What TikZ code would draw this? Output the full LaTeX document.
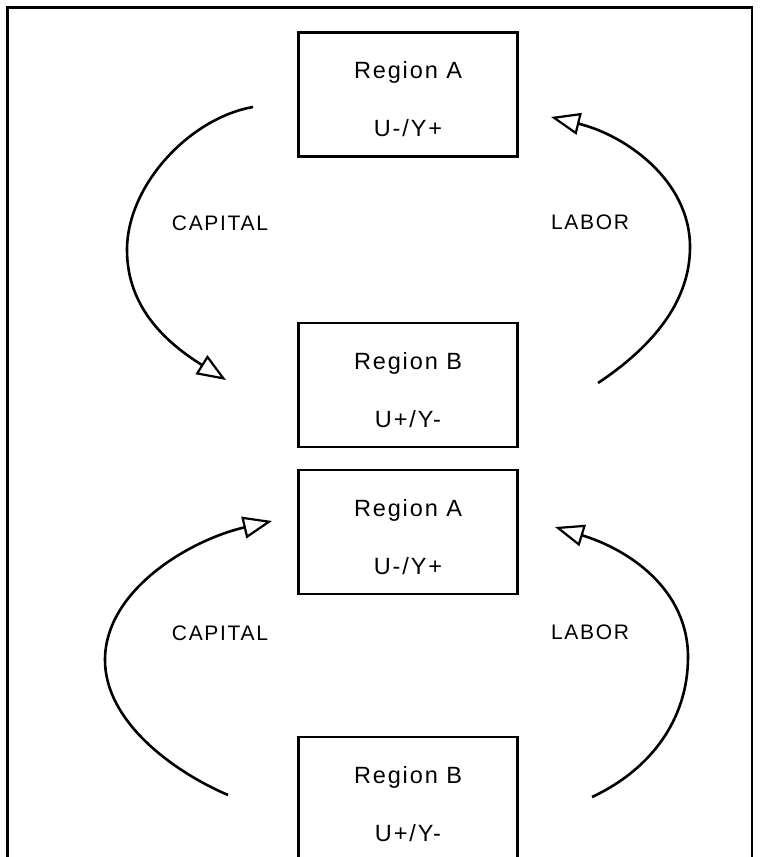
\documentclass[tikz,border=0pt]{standalone}
\usepackage{fontspec}
\setmainfont{Liberation Sans}
\usetikzlibrary{arrows.meta,positioning}

\tikzset{
  region/.style={draw, line width=2.2pt, minimum width=219pt, minimum height=124pt,
    align=center, inner sep=0pt,
    font=\fontsize{23.5}{58}\selectfont\addfontfeatures{LetterSpace=8}},
  flow/.style={line width=2.6pt, -{Triangle[open, length=29pt, width=22pt, line width=2.2pt]}},
  flowlabel/.style={font=\fontsize{21}{24}\selectfont\addfontfeatures{LetterSpace=8}}
}
\newcommand{\toprow}{\rule{0pt}{27pt}}

\begin{document}
\begin{tikzpicture}[x=1pt, y=-1pt]
	\useasboundingbox (0,0) rectangle (768,857);
	\clip (0,0) rectangle (768,857);
	% Draw the frame
	\draw[line width=2.6pt] (7.5,857) -- (7.5,7.5) -- (752,7.5) -- (752,857);
	% Draw the regions
	\node[region]                     (ra1) at (408,94.5) {\toprow Region A\\U-/Y+};
	\node[region, below=164pt of ra1] (rb1) {\toprow Region B\\U+/Y-};
	\node[region, below=21pt of rb1]  (ra2) {\toprow Region A\\U-/Y+};
	\node[region, below=141pt of ra2] (rb2) {\toprow Region B\\U+/Y-};
	% Ends of the flows
	\coordinate (c1s) at (253,107);
	\coordinate (c1e) at (226,380);
	\coordinate (l1s) at (598,383);
	\coordinate (l1e) at (551,117);
	\coordinate (c2s) at (228,795);
	\coordinate (c2e) at (272,521);
	\coordinate (l2s) at (592,797);
	\coordinate (l2e) at (555,527);
	% Connect the regions with flows
	\draw[flow] (c1s) .. controls (190,118) and (127,185) .. (127,250)
		.. controls (127,310) and (170,345) .. (c1e);
	\draw[flow] (l1s) .. controls (655,345) and (690,300) .. (690,247)
		.. controls (690,180) and (625,135) .. (l1e);
	\draw[flow] (c2s) .. controls (170,770) and (105,720) .. (105,660)
		.. controls (105,590) and (190,540) .. (c2e);
	\draw[flow] (l2s) .. controls (650,770) and (688,720) .. (688,657)
		.. controls (688,590) and (630,550) .. (l2e);
	% Flow labels
	\node[flowlabel] (cap1) at (220,223) {CAPITAL};
	\node[flowlabel] (lab1) at (590,222) {LABOR};
	\node[flowlabel] (cap2) at (220,633) {CAPITAL};
	\node[flowlabel] (lab2) at (590,632) {LABOR};
\end{tikzpicture}
\end{document}
